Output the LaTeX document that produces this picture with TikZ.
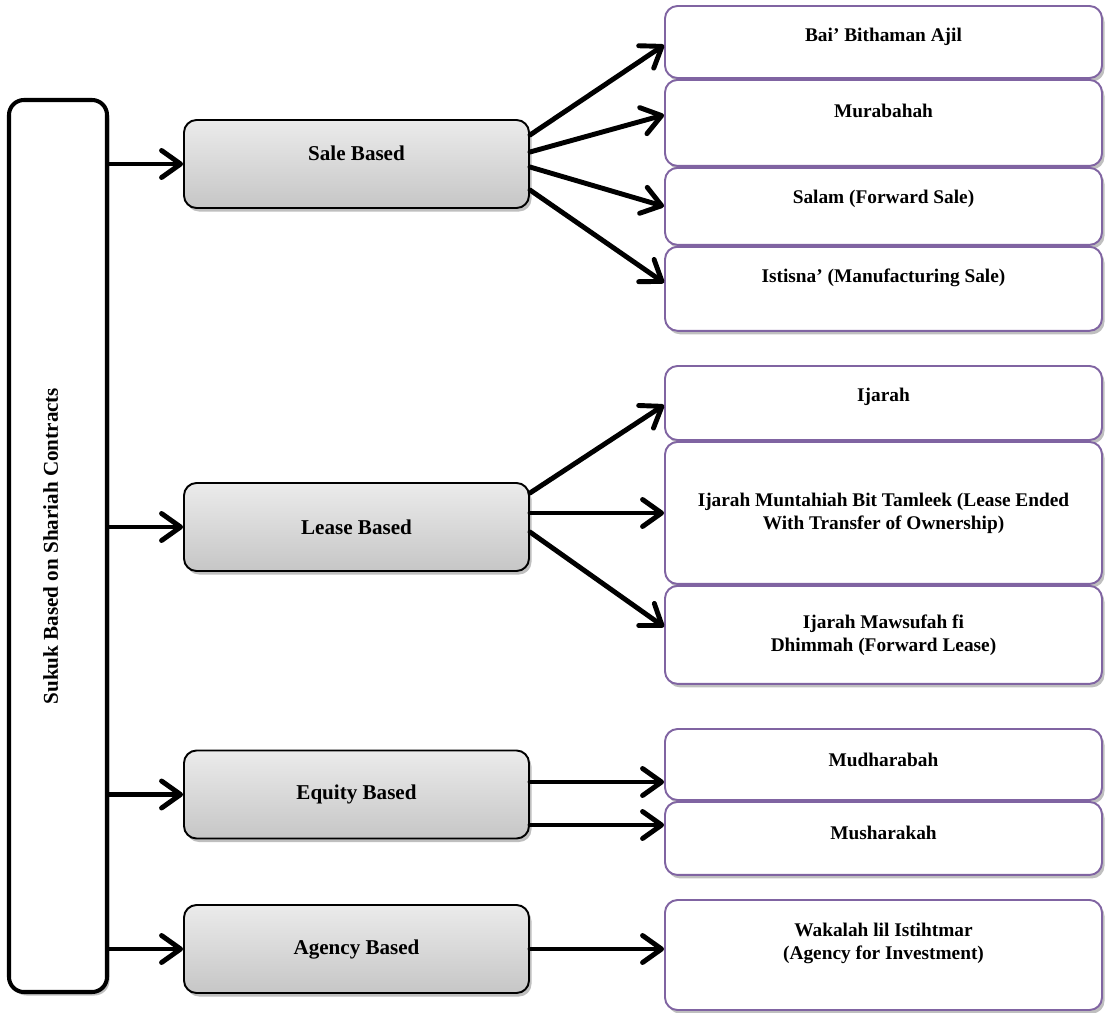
\documentclass[tikz,border=0pt]{standalone}
\usepackage{fontspec}
\setmainfont{Liberation Serif}
\usepackage{graphicx}
\usetikzlibrary{arrows.meta, positioning, shadows}

\definecolor{itemPurple}{HTML}{8064A2}
\definecolor{groupTop}{HTML}{EBEBEB}
\definecolor{groupBottom}{HTML}{C6C6C6}

\begin{document}
\begin{tikzpicture}[
node distance=0cm,
softshadow/.style={drop shadow={shadow xshift=0.05cm, shadow yshift=-0.07cm, opacity=0.25, fill=black}},
rootbox/.style={rectangle, draw, line width=2.3pt, rounded corners=0.3cm, minimum width=1.96cm, minimum height=17.84cm, fill=white, softshadow, font=\fontsize{12}{14}\selectfont\bfseries},
groupbox/.style={rectangle, draw, line width=1.1pt, rounded corners=0.25cm, minimum width=6.9cm, minimum height=1.76cm, top color=groupTop, bottom color=groupBottom, softshadow, font=\fontsize{12}{14}\selectfont\bfseries},
itembox/.style={rectangle, draw=itemPurple, line width=1.1pt, rounded corners=0.25cm, minimum width=8.74cm, fill=white, softshadow, align=center, font=\fontsize{11}{13}\selectfont\bfseries},
toptext/.style={anchor=center, yshift=-0.64cm, align=center, font=\fontsize{11}{13}\selectfont\bfseries},
arrow/.style={-{Straight Barb[length=3.8mm, width=5.4mm, round]}, line width=2.8pt, line cap=round}
]

\useasboundingbox (0,0) rectangle (22.22,-20.26);

\node[rootbox] (sukuk) at (1.16,-10.92) {\rotatebox{90}{\raisebox{0.3cm}{Sukuk Based on Shariah Contracts}}};

\node[groupbox] (sale) at (7.13,-3.28) {\raisebox{0.44cm}{Sale Based}};
\node[groupbox] (lease) at (7.13,-10.54) {Lease Based};
\node[groupbox] (equity) at (7.13,-15.89) {Equity Based};
\node[groupbox] (agency) at (7.13,-18.98) {Agency Based};

\node[itembox, minimum height=1.44cm, label={[toptext]north:Bai’ Bithaman Ajil}] (bai) at (17.67,-0.84) {};
\node[itembox, minimum height=1.72cm, below=of bai, label={[toptext]north:Murabahah}] (murabahah) {};
\node[itembox, minimum height=1.54cm, below=of murabahah, label={[toptext]north:Salam (Forward Sale)}] (salam) {};
\node[itembox, minimum height=1.68cm, below=of salam, label={[toptext]north:Istisna’ (Manufacturing Sale)}] (istisna) {};

\node[itembox, minimum height=1.48cm, label={[toptext]north:Ijarah}] (ijarah) at (17.67,-8.06) {};
\node[itembox, minimum height=2.84cm, below=of ijarah] (muntahiah) {Ijarah Muntahiah Bit Tamleek (Lease Ended\\With Transfer of Ownership)};
\node[itembox, minimum height=1.96cm, below=of muntahiah] (mawsufah) {Ijarah Mawsufah fi\\Dhimmah (Forward Lease)};

\node[itembox, minimum height=1.42cm, label={[toptext]north:Mudharabah}] (mudharabah) at (17.67,-15.29) {};
\node[itembox, minimum height=1.46cm, below=of mudharabah, label={[toptext]north:Musharakah}] (musharakah) {};

\node[itembox, minimum height=2.2cm, label={[toptext, yshift=-0.24cm]north:Wakalah lil Istihtmar\\(Agency for Investment)}] (wakalah) at (17.67,-19.1) {};

\coordinate (leaseMid) at ([yshift=0.28cm]lease.east);
\coordinate (equityTop) at ([yshift=0.25cm]equity.east);
\coordinate (equityLow) at ([yshift=-0.61cm]equity.east);

\draw[arrow] (sukuk.east |- sale.west) -- (sale.west);
\draw[arrow] (sukuk.east |- lease.west) -- (lease.west);
\draw[arrow] (sukuk.east |- equity.west) -- (equity.west);
\draw[arrow] (sukuk.east |- agency.west) -- (agency.west);

\draw[arrow] ([yshift=0.58cm]sale.east) -- ([yshift=-0.06cm]bai.west);
\draw[arrow] ([yshift=0.24cm]sale.east) -- ([yshift=0.16cm]murabahah.west);
\draw[arrow] ([yshift=-0.06cm]sale.east) -- (salam.west);
\draw[arrow] ([yshift=-0.52cm]sale.east) -- ([yshift=0.12cm]istisna.west);

\draw[arrow] ([yshift=0.68cm]lease.east) -- ([yshift=-0.04cm]ijarah.west);
\draw[arrow] (leaseMid) -- (muntahiah.west |- leaseMid);
\draw[arrow] ([yshift=-0.1cm]lease.east) -- ([yshift=0.16cm]mawsufah.west);

\draw[arrow] (equityTop) -- (mudharabah.west |- equityTop);
\draw[arrow] (equityLow) -- (musharakah.west |- equityLow);

\draw[arrow] (agency.east) -- (wakalah.west |- agency.east);

\end{tikzpicture}
\end{document}
